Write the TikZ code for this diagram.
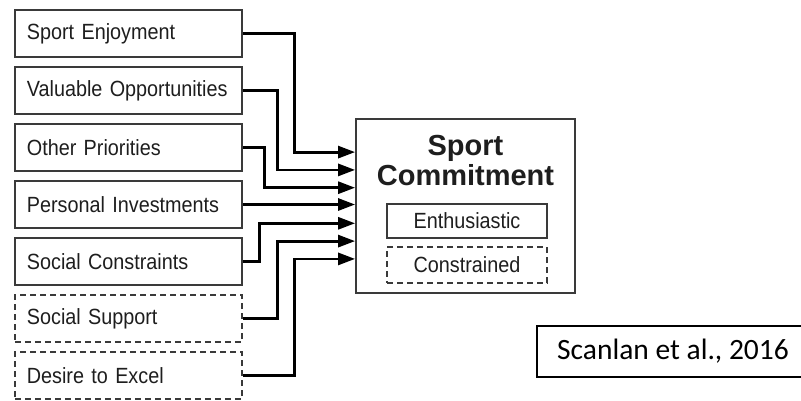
\documentclass[tikz,border=0pt]{standalone}
\usepackage{fontspec}
\setmainfont{Liberation Sans}
\newfontfamily\condfont[FakeStretch=0.9]{Liberation Sans}
\newfontfamily\citefont{Carlito}
\usetikzlibrary{arrows.meta}
\definecolor{boxgray}{HTML}{3A3A3A}
\definecolor{txt}{HTML}{1E1E1E}
\tikzset{
  factor/.style={draw=boxgray, line width=1.8pt, text=txt, anchor=west,
    text width=203pt, inner xsep=12pt, inner ysep=0pt, minimum height=47pt,
    align=left, font=\condfont\fontsize{22}{24}\selectfont},
  factordash/.style={factor, dash pattern=on 6pt off 4pt},
  conn/.style={line width=2.8pt, -{Triangle[length=17pt,width=12pt]}},
  mainbox/.style={draw=boxgray, line width=1.8pt, minimum width=219pt, minimum height=174pt},
  subbox/.style={draw=boxgray, line width=1.8pt, text=txt, minimum width=160pt,
    inner sep=0pt, font=\condfont\fontsize{22}{24}\selectfont},
  citebox/.style={draw=black, line width=1.6pt, minimum width=272pt, minimum height=51pt,
    inner sep=0pt, font=\citefont\fontsize{29.5}{32}\selectfont},
}
\begin{document}
\begin{tikzpicture}[x=1pt,y=-1pt]
\useasboundingbox (0,0) rectangle (801,400);
\node[factor] (b1) at (14,33.5) {Sport Enjoyment};
\node[factor] (b2) at (14,90.5) {Valuable Opportunities};
\node[factor] (b3) at (14,147.5) {Other Priorities};
\node[factor] (b4) at (14,204.5) {Personal Investments};
\node[factor] (b5) at (14,261.5) {Social Constraints};
\node[factordash] (b6) at (14,318.5) {Social Support};
\node[factordash] (b7) at (14,375.5) {Desire to Excel};

\node[mainbox] (main) at (465.5,206) {};
\node[text=txt, align=center, font=\bfseries\fontsize{29}{30}\selectfont] (title) at (465.5,161) {Sport\\Commitment};
\node[subbox, minimum height=34pt] (enth) at (467,221) {Enthusiastic};
\node[subbox, minimum height=36pt, dash pattern=on 6pt off 4pt] (cons) at (467,265) {Constrained};

\node[citebox] (cite) at (673,351.5) {Scanlan et al., 2016};

\draw[conn] (b1.east) -- ++(52,0) |- (main.west |- 0,152.1);
\draw[conn] (b2.east) -- ++(35,0) |- (main.west |- 0,169.9);
\draw[conn] (b3.east) -- ++(22,0) |- (main.west |- 0,187.7);
\draw[conn] (b4.east) -- (main.west |- b4.east);
\draw[conn] (b5.east) -- ++(17,0) |- (main.west |- 0,223.3);
\draw[conn] (b6.east) -- ++(35,0) |- (main.west |- 0,241.1);
\draw[conn] (b7.east) -- ++(52,0) |- (main.west |- 0,258.9);
\end{tikzpicture}
\end{document}
